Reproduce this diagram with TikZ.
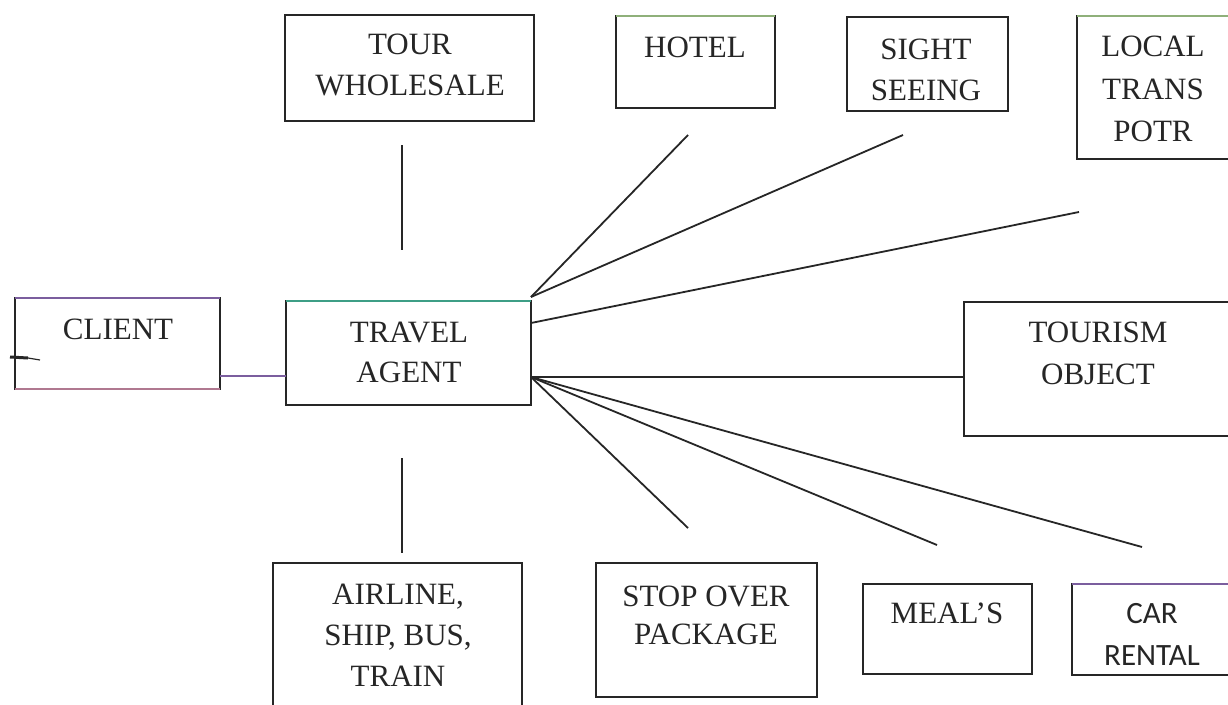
\documentclass[tikz,border=0pt]{standalone}
\usepackage{fontspec}
\setmainfont{Liberation Serif}
\newfontfamily\carlfont{Carlito}
\definecolor{ink}{HTML}{262626}
\definecolor{tealedge}{HTML}{3E9E86}
\definecolor{purp}{HTML}{7B5E9E}
\definecolor{pinkedge}{HTML}{B07890}
\definecolor{greenedge}{HTML}{8FB07A}
\tikzset{
  box/.style={draw=ink, line width=1.9pt, inner sep=0pt, outer sep=0pt, rectangle},
  lbl/.style={font=\fontsize{31}{41}\selectfont, align=center, anchor=north, inner sep=0pt, text=ink},
  conn/.style={draw=ink, line width=1.8pt},
}
\begin{document}
\begin{tikzpicture}[x=1pt,y=-1pt]
\useasboundingbox (0,0) rectangle (1228,704);
\fill[white] (0,0) rectangle (1228,704);

% boxes
\node[box, minimum width=249pt, minimum height=106pt] (tw)     at (409.5,68)   {};
\node[box, minimum width=159pt, minimum height=92pt]  (hotel)  at (695.5,62)   {};
\node[box, minimum width=161pt, minimum height=94pt]  (sight)  at (927.5,64)   {};
\node[box, minimum width=155pt, minimum height=143pt] (local)  at (1154.5,87.5) {};
\node[box, minimum width=205pt, minimum height=91pt]  (client) at (117.5,343.5) {};
\node[box, minimum width=245pt, minimum height=104pt] (ta)     at (408.5,353)  {};
\node[box, minimum width=268pt, minimum height=134pt] (tobj)   at (1098,369)   {};
\node[box, minimum width=249pt, minimum height=150pt] (air)    at (397.5,638)  {};
\node[box, minimum width=221pt, minimum height=134pt] (stop)   at (706.5,630)  {};
\node[box, minimum width=169pt, minimum height=90pt]  (meal)   at (947.5,629)  {};
\node[box, minimum width=160pt, minimum height=91pt]  (car)    at (1152,629.5) {};

% tinted edges (scan colours)
\draw[tealedge, line width=2pt] (ta.north west) -- (ta.north east);
\draw[greenedge, line width=1.6pt] (hotel.north west) -- (hotel.north east);
\draw[greenedge, line width=1.6pt] (local.north west) -- (local.north east);
\draw[purp, line width=1.8pt] (client.north west) -- (client.north east);
\draw[pinkedge, line width=1.8pt] (client.south west) -- (client.south east);
\draw[purp, line width=1.8pt] (car.north west) -- (car.north east);

% labels
\node[lbl] (twT)     at (410,34)   {TOUR\\WHOLESALE};
\node[lbl] (hotelT)  at (695,37)   {HOTEL};
\node[lbl] (sightT)  at (926,39)   {SIGHT\\SEEING};
\node[lbl, font=\fontsize{31}{42.5}\selectfont] (localT) at (1153,36) {LOCAL\\TRANS\\POTR};
\node[lbl] (clientT) at (118,319)  {CLIENT};
\node[lbl, font=\fontsize{31}{40}\selectfont] (taT) at (409,322) {TRAVEL\\AGENT};
\node[lbl, font=\fontsize{31}{42}\selectfont] (tobjT) at (1098,322) {TOURISM\\OBJECT};
\node[lbl] (airT)    at (398,584)  {AIRLINE,\\SHIP, BUS,\\TRAIN};
\node[lbl, font=\fontsize{31}{38}\selectfont] (stopT) at (706,586) {STOP OVER\\PACKAGE};
\node[lbl] (mealT)   at (947,603)  {MEAL'S};
\node[lbl, font=\carlfont\fontsize{31}{42}\selectfont] (carT) at (1152,603) {CAR\\RENTAL};

% connector end points
\coordinate (twEnd)    at (402,145);
\coordinate (twTa)     at (402,250);
\coordinate (airTa)    at (402,458);
\coordinate (airEnd)   at (402,553);
\coordinate (taUp)     at (531,297);
\coordinate (taMid)    at (531,323);
\coordinate (taLo)     at (531,377);
\coordinate (clY)      at (0,376);
\coordinate (hotelEnd) at (688,135);
\coordinate (sightEnd) at (903,135);
\coordinate (localEnd) at (1079,212);
\coordinate (stopEnd)  at (688,528);
\coordinate (mealEnd)  at (937,545);
\coordinate (carEnd)   at (1142,547);
\coordinate (tickA)    at (10,357);
\coordinate (tickB)    at (28,358);
\coordinate (tickC)    at (40,360);

% connectors
\draw[conn] (twEnd) -- (twTa);
\draw[conn] (airTa) -- (airEnd);
\draw[conn, draw=purp] (client.east |- clY) -- (ta.west |- clY);
\draw[conn] (taUp) -- (hotelEnd);
\draw[conn] (taUp) -- (sightEnd);
\draw[conn] (taMid) -- (localEnd);
\draw[conn] (taLo) -- (tobj.west |- taLo);
\draw[conn] (taLo) -- (stopEnd);
\draw[conn] (taLo) -- (mealEnd);
\draw[conn] (taLo) -- (carEnd);
\draw[ink, line width=3pt] (tickA) -- (tickB);
\draw[ink, line width=1.2pt] (tickB) -- (tickC);
\end{tikzpicture}
\end{document}
